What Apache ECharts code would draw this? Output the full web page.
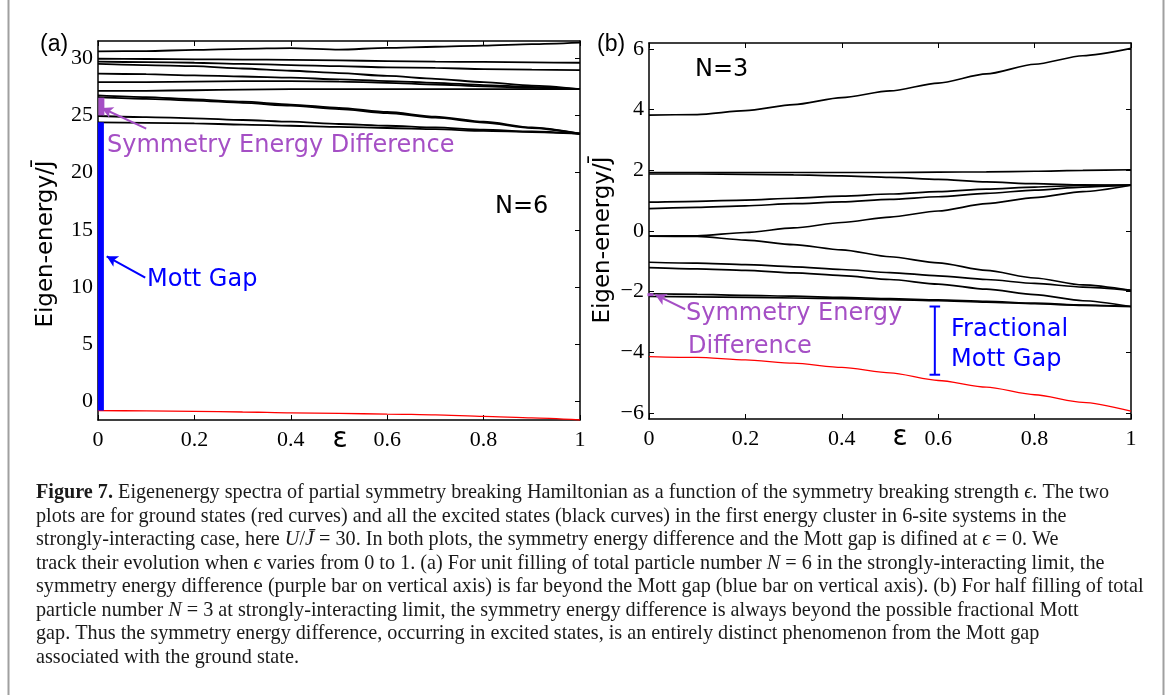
<!DOCTYPE html>
<html><head><meta charset="utf-8">
<script src="https://cdn.jsdelivr.net/npm/echarts@6/dist/echarts.min.js"></script>
<style>html,body{margin:0;padding:0;background:#fff}#c{width:1168px;height:695px}</style>
</head><body><div id="c"></div>
<script>
// ---------- data ----------
const eps = [0,0.1,0.2,0.3,0.4,0.5,0.6,0.7,0.8,0.9,1];
const xTicks = [0,0.2,0.4,0.6,0.8,1];
const yTicksA = [0,5,10,15,20,25,30];
const yTicksB = [-6,-4,-2,0,2,4,6];

// panel (a): N=6, excited states (black) and ground state (red)
const a1  = [30.6,30.62,30.72,30.82,30.88,30.75,30.9,31.0,31.1,31.22,31.35];
const a2  = [29.95,29.93,29.9,29.88,29.85,29.8,29.75,29.7,29.67,29.63,29.6];
const a3  = [29.7,29.65,29.6,29.5,29.4,29.3,29.2,29.15,29.05,29.0,28.95];
const a4  = [29.5,29.4,29.3,29.1,28.9,28.7,28.45,28.2,27.9,27.6,27.3];
const a5  = [28.65,28.6,28.5,28.4,28.3,28.15,28.0,27.85,27.65,27.5,27.3];
const a6  = [27.9,27.9,27.95,28.0,28.0,27.95,27.85,27.7,27.55,27.4,27.3];
const a7  = [27.15,27.15,27.2,27.25,27.3,27.3,27.3,27.3,27.3,27.3,27.3];
const a8  = [26.75,26.6,26.4,26.2,25.95,25.65,25.3,24.9,24.45,23.95,23.4];
const a9  = [26.6,26.45,26.3,26.1,25.85,25.55,25.2,24.8,24.38,23.9,23.4];
const a10 = [24.95,24.85,24.75,24.6,24.45,24.25,24.1,23.95,23.75,23.6,23.4];
const a11 = [24.4,24.35,24.3,24.2,24.1,24.0,23.9,23.8,23.65,23.55,23.4];
const aGround = [-0.78,-0.8,-0.85,-0.9,-0.98,-1.03,-1.08,-1.15,-1.28,-1.42,-1.6];
const aSymGap  = [26.55, 25.0];   // symmetry energy difference at eps=0
const aMottGap = [24.4, -0.78];   // Mott gap at eps=0

// panel (b): N=3
const b1  = [3.82,3.84,3.97,4.17,4.4,4.62,4.88,5.18,5.5,5.78,6.02];
const b2  = [1.93,1.93,1.93,1.93,1.93,1.93,1.94,1.95,1.97,2.0,2.02];
const b3  = [1.88,1.88,1.87,1.85,1.82,1.77,1.7,1.62,1.56,1.52,1.51];
const b4  = [0.95,0.98,1.02,1.08,1.15,1.22,1.3,1.38,1.45,1.5,1.51];
const b5  = [0.74,0.78,0.83,0.9,0.96,1.04,1.13,1.24,1.35,1.45,1.51];
const b6  = [-0.17,-0.16,-0.05,0.1,0.28,0.46,0.66,0.9,1.1,1.3,1.51];
const b7  = [-0.17,-0.18,-0.3,-0.45,-0.62,-0.85,-1.05,-1.3,-1.55,-1.78,-1.96];
const b8  = [-1.03,-1.06,-1.11,-1.18,-1.27,-1.37,-1.48,-1.6,-1.73,-1.85,-1.96];
const b9  = [-1.21,-1.25,-1.3,-1.38,-1.47,-1.6,-1.75,-1.92,-2.1,-2.3,-2.49];
const b10 = [-2.07,-2.09,-2.12,-2.15,-2.19,-2.23,-2.27,-2.32,-2.38,-2.44,-2.49];
const b11 = [-2.16,-2.17,-2.19,-2.21,-2.23,-2.26,-2.3,-2.35,-2.4,-2.45,-2.49];
const bGround = [-4.14,-4.17,-4.25,-4.36,-4.5,-4.68,-4.93,-5.15,-5.4,-5.65,-5.94];
const bSymGap  = [-2.05, -2.15];
const bMottGap = [-2.49, -4.74];  // fractional Mott gap marker
const bMottEps = 0.593;

// ---------- styles ----------
const PURPLE = '#a54fc5', BLUE = '#0000ff', RED = '#ff0000';
const SANS = 'DejaVu Sans', SERIF = 'Liberation Serif';

const chart = echarts.init(document.getElementById('c'));
const pts = arr => eps.map((e,i)=>[e, arr[i]]);

function lineSeries(arr, gi, color, w){
  return {type:'line', xAxisIndex:gi*2, yAxisIndex:gi*2, data:pts(arr), showSymbol:false,
    smooth:0.25, smoothMonotone:'x', lineStyle:{color:color, width:w}, silent:true, z:3};
}
function xAx(gi, top){
  return {type:'value', gridIndex:gi, position: top?'top':'bottom', min:0, max:1, interval:0.2,
    axisLine:{show:true, onZero:false, lineStyle:{color:'#000', width:1.5}},
    axisTick:{show:true, inside:true, length:5, lineStyle:{color:'#000', width:1}},
    axisLabel:{show:!top, fontFamily:SERIF, fontSize:22, color:'#000', margin:9},
    splitLine:{show:false}};
}
function yAx(gi, right, min, max, ticks){
  return {type:'value', gridIndex:gi, position: right?'right':'left', min:min, max:max,
    axisLine:{show:true, onZero:false, lineStyle:{color:'#000', width:1.5}},
    axisTick:{show:true, inside:true, length:5, customValues:ticks, lineStyle:{color:'#000', width:1}},
    axisLabel:{show:!right, customValues:ticks, fontFamily:SERIF, fontSize:22, color:'#000', margin:5,
      formatter: v => String(v).replace('-', '\u2212')},
    splitLine:{show:false}};
}

const series = [];
[a1,a2,a3,a4,a5,a6,a7,a8,a9,a10,a11].forEach(a=>series.push(lineSeries(a,0,'#000',1.8)));
series.push(lineSeries(aGround,0,RED,1.3));
[b1,b2,b3,b4,b5,b6,b7,b8,b9,b10,b11].forEach(a=>series.push(lineSeries(a,1,'#000',1.7)));
series.push(lineSeries(bGround,1,RED,1.3));

function arrowML(color, from, to){
  return {silent:true, symbol:['none','arrow'], symbolSize:[9,11], label:{show:false},
    lineStyle:{color:color, width:2, type:'solid'}, emphasis:{disabled:true},
    data:[[{coord:from},{coord:to}]]};
}
// (a) bars on the vertical axis
series.push({type:'line', xAxisIndex:0, yAxisIndex:0, clip:false, showSymbol:false, silent:true, z:5,
  data:[[0.007,aSymGap[0]],[0.007,aSymGap[1]]], lineStyle:{color:PURPLE, width:6},
  markLine: arrowML(PURPLE, [0.1, 23.85], [0.008, 25.65])});
series.push({type:'line', xAxisIndex:0, yAxisIndex:0, clip:false, showSymbol:false, silent:true, z:5,
  data:[[0.006,aMottGap[0]],[0.006,aMottGap[1]]], lineStyle:{color:BLUE, width:6},
  markLine: arrowML(BLUE, [0.098, 10.84], [0.018, 12.7])});
// (b)
series.push({type:'line', xAxisIndex:2, yAxisIndex:2, clip:false, showSymbol:false, silent:true, z:5,
  data:[[0.003,bSymGap[0]],[0.003,bSymGap[1]]], lineStyle:{color:PURPLE, width:6},
  markLine: arrowML(PURPLE, [0.075, -2.58], [0.013, -2.1])});
series.push({type:'line', xAxisIndex:2, yAxisIndex:2, clip:false, showSymbol:false, silent:true, z:5,
  data:[[bMottEps,bMottGap[0]],[bMottEps,bMottGap[1]]], lineStyle:{color:BLUE, width:2}});
series.push({type:'line', xAxisIndex:2, yAxisIndex:2, clip:false, showSymbol:false, silent:true, z:5,
  data:[[bMottEps-0.011,bMottGap[0]],[bMottEps+0.011,bMottGap[0]]], lineStyle:{color:BLUE, width:2}});
series.push({type:'line', xAxisIndex:2, yAxisIndex:2, clip:false, showSymbol:false, silent:true, z:5,
  data:[[bMottEps-0.011,bMottGap[1]],[bMottEps+0.011,bMottGap[1]]], lineStyle:{color:BLUE, width:2}});

function txt(x, y, text, color, size, family, rot, align){
  return {type:'text', x:x, y:y, rotation: rot||0, silent:true, z:10,
    style:{text:text, fill:color||'#000', font: (size||24)+'px "'+(family||SANS)+'"',
      align: align || (rot? 'center':'left'), verticalAlign:'middle'}};
}
const capLines = [
  '{b|Figure 7.} Eigenenergy spectra of partial symmetry breaking Hamiltonian as a function of the symmetry breaking strength {i|ϵ}. The two',
  'plots are for ground states (red curves) and all the excited states (black curves) in the first energy cluster in 6-site systems in the',
  'strongly-interacting case, here {i|U}/{i|J̄} = 30. In both plots, the symmetry energy difference and the Mott gap is difined at {i|ϵ} = 0. We',
  'track their evolution when {i|ϵ} varies from 0 to 1. (a) For unit filling of total particle number {i|N} = 6 in the strongly-interacting limit, the',
  'symmetry energy difference (purple bar on vertical axis) is far beyond the Mott gap (blue bar on vertical axis). (b) For half filling of total',
  'particle number {i|N} = 3 at strongly-interacting limit, the symmetry energy difference is always beyond the possible fractional Mott',
  'gap. Thus the symmetry energy difference, occurring in excited states, is an entirely distinct phenomenon from the Mott gap',
  'associated with the ground state.'
];
const CAP = 20.2;
const graphics = [
  {type:'line', silent:true, shape:{x1:8.5,y1:0,x2:8.5,y2:695}, style:{stroke:'#a0a0a0', lineWidth:2}},
  {type:'line', silent:true, shape:{x1:1163.5,y1:0,x2:1163.5,y2:695}, style:{stroke:'#a0a0a0', lineWidth:2}},
  txt(40, 45, '(a)', '#000', 23, 'Liberation Sans'),
  txt(597, 45, '(b)', '#000', 23, 'Liberation Sans'),
  txt(46, 244, 'Eigen-energy/J\u0304', '#000', 23, SANS, Math.PI/2),
  txt(603, 240, 'Eigen-energy/J\u0304', '#000', 23, SANS, Math.PI/2),
  txt(340, 440, 'ε', '#000', 28, SANS, 0, 'center'),
  txt(900, 438, 'ε', '#000', 28, SANS, 0, 'center'),
  txt(495, 207, 'N=6', '#000', 24),
  txt(695, 70, 'N=3', '#000', 24),
  txt(107, 146, 'Symmetry Energy Difference', PURPLE, 24),
  txt(147, 280, 'Mott Gap', BLUE, 24),
  txt(686, 314, 'Symmetry Energy', PURPLE, 24),
  txt(688, 347, 'Difference', PURPLE, 24),
  txt(951, 330, 'Fractional', BLUE, 24),
  txt(951, 360, 'Mott Gap', BLUE, 24)
];
capLines.forEach((t,i)=>{
  graphics.push({type:'text', x:36, y:493 + i*23.5, silent:true,
    style:{text:t, fill:'#1a1a1a', font: CAP+'px "'+SERIF+'"', verticalAlign:'middle',
      rich:{b:{fontWeight:'bold', fontFamily:SERIF, fontSize:CAP, fill:'#1a1a1a'},
            i:{fontStyle:'italic', fontFamily:SERIF, fontSize:CAP, fill:'#1a1a1a'}}}});
});

chart.setOption({
  animation:false,
  backgroundColor:'#fff',
  grid:[{left:98, top:41, width:482, height:379}, {left:649, top:43, width:482, height:376}],
  xAxis:[xAx(0,false), xAx(0,true), xAx(1,false), xAx(1,true)],
  yAxis:[yAx(0,false,-1.6,31.5,yTicksA), yAx(0,true,-1.6,31.5,yTicksA),
         yAx(1,false,-6.2,6.2,yTicksB), yAx(1,true,-6.2,6.2,yTicksB)],
  series: series,
  graphic: graphics
});
</script></body></html>
